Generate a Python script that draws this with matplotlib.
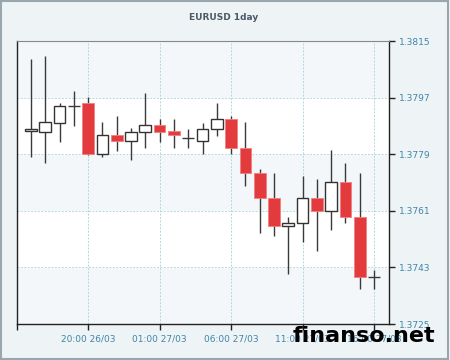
import matplotlib as mpl
mpl.use('Agg')
import matplotlib.pyplot as plt
import matplotlib.dates as mdates
from matplotlib.patches import Rectangle
import pandas as pd
import numpy as np

# hourly EURUSD candles, 26/03 16:00 .. 27/03 16:00
times = pd.date_range('2014-03-26 16:00', periods=25, freq='h')
opens = [1.37863, 1.37862, 1.37890, 1.37942, 1.37953, 1.37790, 1.37850, 1.37831,
         1.37862, 1.37882, 1.37863, 1.37842, 1.37831, 1.37870, 1.37902, 1.37811,
         1.37731, 1.37651, 1.37562, 1.37570, 1.37650, 1.37609, 1.37702, 1.37589,
         1.37400]
closes = [1.37869, 1.37891, 1.37942, 1.37942, 1.37790, 1.37850, 1.37831, 1.37862,
          1.37882, 1.37862, 1.37850, 1.37842, 1.37870, 1.37902, 1.37811, 1.37729,
          1.37650, 1.37561, 1.37570, 1.37650, 1.37609, 1.37702, 1.37589, 1.37400,
          1.37400]
highs = [1.38092, 1.38103, 1.37952, 1.37991, 1.37971, 1.37891, 1.37911, 1.37872,
         1.37984, 1.37902, 1.37901, 1.37870, 1.37890, 1.37952, 1.37911, 1.37891,
         1.37742, 1.37730, 1.37589, 1.37721, 1.37710, 1.37803, 1.37761, 1.37731,
         1.37422]
lows = [1.37782, 1.37761, 1.37830, 1.37881, 1.37789, 1.37780, 1.37801, 1.37771,
        1.37809, 1.37830, 1.37809, 1.37809, 1.37790, 1.37849, 1.37790, 1.37690,
        1.37540, 1.37529, 1.37408, 1.37510, 1.37481, 1.37549, 1.37570, 1.37360,
        1.37360]

yticks = [1.3725, 1.3743, 1.3761, 1.3779, 1.3797, 1.3815]
xtick_times = pd.date_range('2014-03-26 15:00', periods=6, freq='5h')
xtick_labels = ['', '20:00 26/03', '01:00 27/03', '06:00 27/03', '11:00 27/03', '16:00 27/03']

red = '#e33b3d'
lblcol = '#3f86a8'
gridcol = '#b3d8e0'

fig = plt.figure(figsize=(4.5, 3.6), dpi=100, facecolor='#eef3f5')
ax = fig.add_axes([0.037, 0.1, 0.827, 0.786])
ax.set_facecolor('#f3f7f9')

# alternating horizontal bands
for i in range(len(yticks) - 1):
    if i % 2 == 1:
        ax.axhspan(yticks[i], yticks[i + 1], color='white', zorder=0)

t = mdates.date2num(times)
w = 0.82 / 24.0
for x, o, c, h, l in zip(t, opens, closes, highs, lows):
    ax.vlines(x, l, h, color='#3a3a3a', lw=1.0, zorder=2)
    if abs(c - o) < 1e-6:
        ax.hlines(o, x - w / 2, x + w / 2, color='#3a3a3a', lw=1.0, zorder=3)
    elif c > o:
        ax.add_patch(Rectangle((x - w / 2, o), w, c - o, facecolor='white',
                               edgecolor='#333333', lw=1.0, zorder=3))
    else:
        ax.add_patch(Rectangle((x - w / 2, c), w, o - c, facecolor=red,
                               edgecolor='#f08080', lw=0.6, zorder=3))

xt = mdates.date2num(xtick_times)
ax.set_xlim(xt[0], xt[-1] + 1.03 / 24.0)
ax.set_ylim(yticks[0], yticks[-1])
ax.set_xticks(xt)
ax.set_xticklabels(xtick_labels)
ax.set_yticks(yticks)
ax.set_yticklabels(['%.4f' % v for v in yticks])
ax.yaxis.tick_right()
ax.tick_params(axis='both', labelsize=6.5, labelcolor=lblcol, color='#222222',
               length=4, width=1)
ax.grid(True, color=gridcol, ls=(0, (2, 1.5)), lw=0.7, zorder=1)
ax.set_axisbelow(True)

for s in ['left', 'bottom', 'right']:
    ax.spines[s].set_color('#222222')
    ax.spines[s].set_linewidth(1.0)
ax.spines['top'].set_color('#888888')

fig.text(0.497, 0.952, 'EURUSD 1day', ha='center', va='center', fontsize=6.5,
         fontweight='bold', color='#4a5a66')

# watermark
fig.text(0.967, 0.04, 'finanso.net', ha='right', va='bottom', fontsize=16,
         fontweight='bold', color='black')

fig.patches.append(Rectangle((0.002, 0.003), 0.994, 0.993, transform=fig.transFigure,
                             fill=False, edgecolor='#9aa6ae', lw=1.5))

plt.savefig('out.png', dpi=100, facecolor=fig.get_facecolor())
